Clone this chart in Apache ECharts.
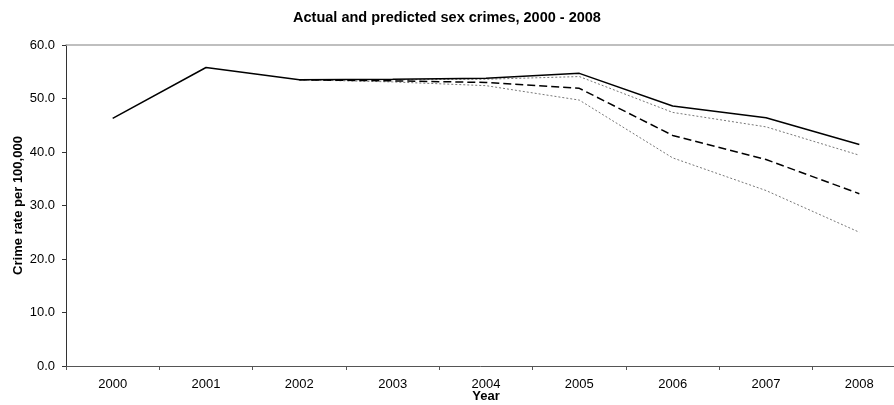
<!DOCTYPE html>
<html><head><meta charset="utf-8">
<script src="https://cdn.jsdelivr.net/npm/echarts@6/dist/echarts.min.js"></script>
<style>html,body{margin:0;padding:0;background:#fff}#c{width:894px;height:405px}</style>
</head><body><div id="c"></div>
<script>
const years = ['2000','2001','2002','2003','2004','2005','2006','2007','2008'];
const actual = [46.3, 55.8, 53.5, 53.6, 53.8, 54.7, 48.6, 46.4, 41.4];
const predHigh = [null, null, 53.5, 53.5, 53.6, 54.1, 47.4, 44.7, 39.4];
const predMid = [null, null, 53.5, 53.3, 53.0, 51.9, 43.1, 38.6, 32.2];
const predLow = [null, null, 53.5, 53.1, 52.4, 49.7, 38.9, 32.8, 25.0];

const chart = echarts.init(document.getElementById('c'), null, {renderer:'canvas'});
const font = 'Liberation Sans, Arial, sans-serif';
chart.setOption({
  animation: false,
  title: { text: 'Actual and predicted sex crimes, 2000 - 2008', left: 'center', top: 5,
    textStyle: { fontFamily: font, fontSize: 14.5, fontWeight: 'bold', color: '#000' } },
  grid: { left: 66, right: -12, top: 45, bottom: 39, containLabel: false, outerBoundsMode: 'none' },
  xAxis: [{
    type: 'category', data: years, boundaryGap: true,
    name: 'Year', nameLocation: 'middle', nameGap: 24, nameMoveOverlap: false,
    nameTextStyle: { fontFamily: font, fontSize: 13, fontWeight: 'bold', color: '#000' },
    axisLine: { lineStyle: { color: '#555', width: 1 } },
    axisTick: { show: true, length: 4, alignWithLabel: false, lineStyle: { color: '#555' } },
    axisLabel: { fontFamily: font, fontSize: 13, color: '#000', margin: 12 }
  },{
    type: 'category', data: years, position: 'top', gridIndex: 0,
    axisLine: { lineStyle: { color: '#aaa', width: 1.5 } },
    axisTick: { show: false }, axisLabel: { show: false }
  }],
  yAxis: {
    type: 'value', min: 0, max: 60, interval: 10,
    name: 'Crime rate per 100,000', nameLocation: 'middle', nameGap: 41, nameRotate: 90, nameMoveOverlap: false,
    nameTextStyle: { fontFamily: font, fontSize: 13, fontWeight: 'bold', color: '#000' },
    axisLine: { show: true, lineStyle: { color: '#333', width: 1 } },
    axisTick: { show: true, length: 4, lineStyle: { color: '#333' } },
    axisLabel: { fontFamily: font, fontSize: 13, color: '#000', margin: 11, formatter: v => v.toFixed(1) },
    splitLine: { show: false }
  },
  series: [
    { name: 'Upper', type: 'line', data: predHigh, symbol: 'none', connectNulls: false,
      lineStyle: { color: '#777', width: 1, type: [2, 2] } },
    { name: 'Lower', type: 'line', data: predLow, symbol: 'none',
      lineStyle: { color: '#777', width: 1, type: [2, 2] } },
    { name: 'Predicted', type: 'line', data: predMid, symbol: 'none',
      lineStyle: { color: '#000', width: 1.5, type: [8, 4] } },
    { name: 'Actual', type: 'line', data: actual, symbol: 'none',
      lineStyle: { color: '#000', width: 1.5 } }
  ]
});
</script></body></html>
